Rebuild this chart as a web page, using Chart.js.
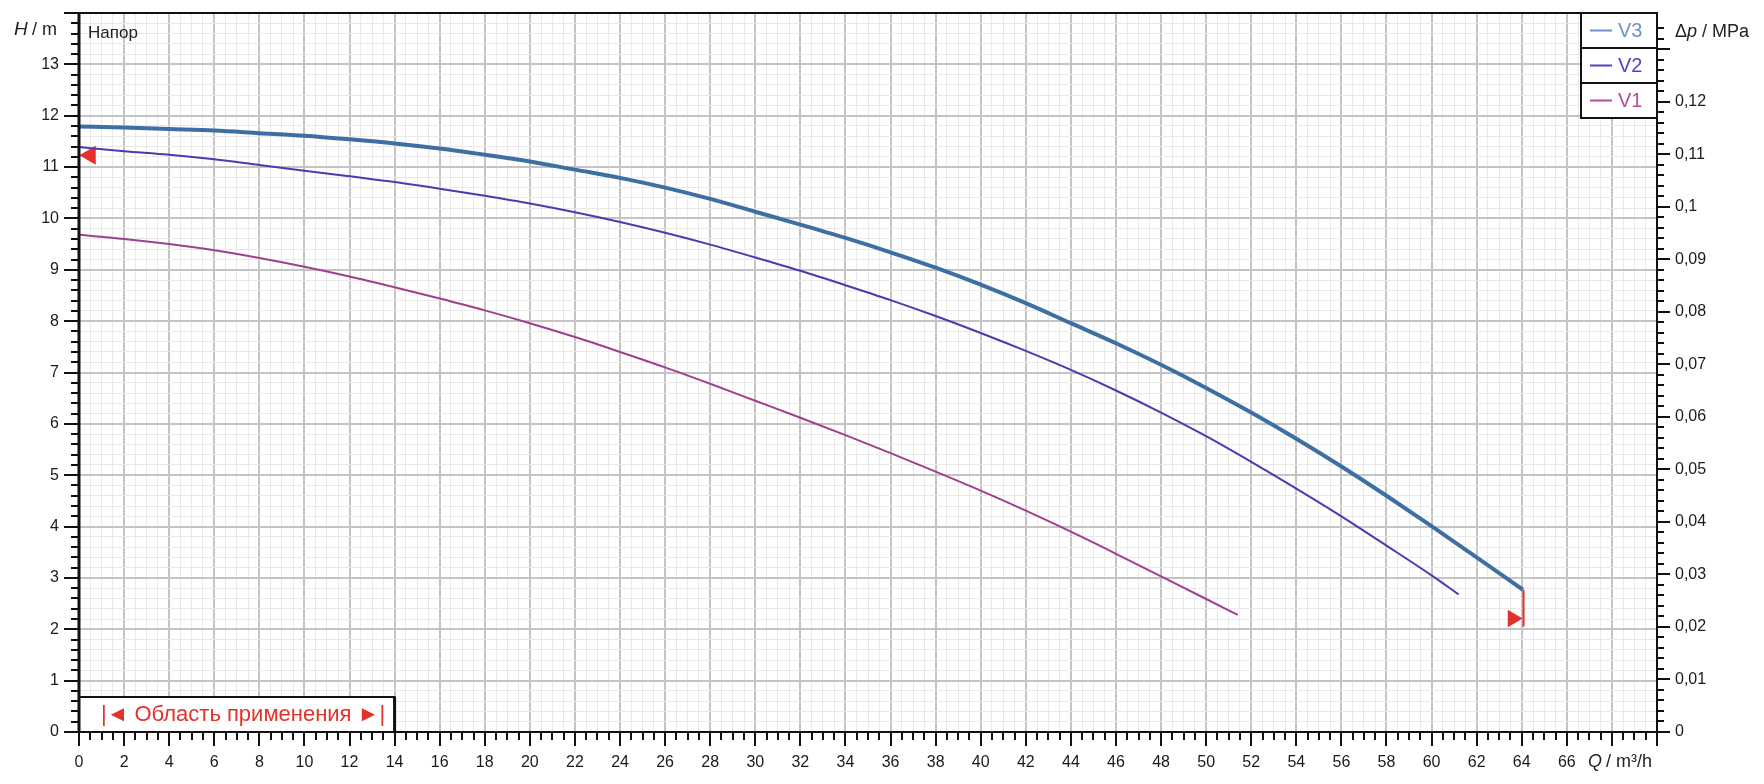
<!DOCTYPE html>
<html>
<head>
<meta charset="utf-8">
<script src="https://cdn.jsdelivr.net/npm/chart.js@4.4.1/dist/chart.umd.min.js"></script>
<style>
  body { margin: 0; background: #fff; }
  #wrap { width: 1764px; height: 784px; }
</style>
</head>
<body>
<div id="wrap"><canvas id="chart-pump" width="1764" height="784"></canvas></div>
<script>
// Кривые напора насоса (Q -> H), три скорости
const seriesNames = ["V3", "V2", "V1"];

const flowV3 = [0, 2, 4, 6, 8, 10, 12, 14, 16, 18, 20, 22, 24, 26, 28, 30, 32, 34, 36, 38, 40, 42, 44, 46, 48, 50, 52, 54, 56, 58, 60, 62, 64.05];
const headV3 = [11.79, 11.77, 11.74, 11.71, 11.66, 11.61, 11.54, 11.46, 11.36, 11.24, 11.11, 10.95, 10.79, 10.60, 10.38, 10.13, 9.88, 9.62, 9.34, 9.04, 8.71, 8.35, 7.96, 7.57, 7.15, 6.70, 6.22, 5.71, 5.17, 4.60, 4.01, 3.40, 2.77];

const flowV2 = [0, 2, 4, 6, 8, 10, 12, 14, 16, 18, 20, 22, 24, 26, 28, 30, 32, 34, 36, 38, 40, 42, 44, 46, 48, 50, 52, 54, 56, 58, 60, 61.2];
const headV2 = [11.39, 11.31, 11.24, 11.15, 11.04, 10.93, 10.82, 10.71, 10.58, 10.44, 10.29, 10.12, 9.93, 9.72, 9.49, 9.24, 8.98, 8.70, 8.41, 8.10, 7.77, 7.42, 7.05, 6.65, 6.22, 5.76, 5.26, 4.74, 4.20, 3.63, 3.05, 2.68];

const flowV1 = [0, 2, 4, 6, 8, 10, 12, 14, 16, 18, 20, 22, 24, 26, 28, 30, 32, 34, 36, 38, 40, 42, 44, 46, 48, 50, 51.4];
const headV1 = [9.68, 9.60, 9.50, 9.38, 9.23, 9.06, 8.87, 8.66, 8.44, 8.21, 7.96, 7.69, 7.40, 7.10, 6.78, 6.45, 6.12, 5.78, 5.43, 5.07, 4.70, 4.31, 3.90, 3.47, 3.03, 2.59, 2.28];

// рабочая точка / граница области
const markerStartQ = [0.5];
const markerStartH = [11.23];
const markerEndQ = [63.6];
const markerEndH = [2.21];
const limitQ = [64.08, 64.08];
const limitH = [2.77, 2.05];

// оси
const flowMax = 70;
const headMax = 14;
const mpaPerMeter = 0.00978;
const flowLabelMax = 66;
const mpaLabelMax = 0.12;

const FONT = '"Liberation Sans", Arial, sans-serif';
const RED = "#e5312b";
const seriesColors = ["#3d6fa3", "#5636b0", "#9e408e"];
const legendColors = ["#6f93c6", "#5a40c0", "#b0509c"];

const toPoints = (xs, ys) => xs.map((x, i) => ({ x: x, y: ys[i] }));
const isMult = (v, step) => Math.abs(v / step - Math.round(v / step)) < 1e-6;

const overlay = {
  id: "overlay",
  afterDatasetsDraw(chart) {
    const c = chart.ctx;
    const a = chart.chartArea;
    const sx = chart.scales.x;
    const sy = chart.scales.y;
    const sy2 = chart.scales.y2;
    c.save();

    // область применения
    const bx1 = sx.getPixelForValue(14);
    const byTop = a.bottom - 35;
    c.fillStyle = "#fff";
    c.fillRect(a.left, byTop, bx1 - a.left, a.bottom - byTop);
    c.strokeStyle = "#111";
    c.lineWidth = 2;
    c.strokeRect(a.left, byTop, bx1 - a.left, a.bottom - byTop);
    c.lineWidth = 3;
    c.beginPath();
    c.moveTo(bx1, byTop);
    c.lineTo(bx1, a.bottom);
    c.stroke();
    c.fillStyle = RED;
    c.font = "22px " + FONT;
    c.textAlign = "center";
    c.textBaseline = "middle";
    c.fillText("|◄ Область применения ►|", 243, byTop + 18);

    // легенда
    const lx = 1581;
    const rowH = 35;
    c.font = "20px " + FONT;
    c.textAlign = "left";
    chart.data.datasets.slice(0, 3).forEach((ds, i) => {
      const top = a.top + i * rowH;
      c.fillStyle = "#fff";
      c.fillRect(lx, top, a.right - lx, rowH);
      c.strokeStyle = "#111";
      c.lineWidth = 2;
      c.strokeRect(lx, top, a.right - lx, rowH);
      c.strokeStyle = legendColors[i];
      c.lineWidth = 2;
      c.beginPath();
      c.moveTo(lx + 9, top + rowH / 2);
      c.lineTo(lx + 31, top + rowH / 2);
      c.stroke();
      c.fillStyle = legendColors[i];
      c.fillText(ds.label, lx + 37, top + rowH / 2 + 1);
    });

    // рамка
    c.strokeStyle = "#111";
    c.lineWidth = 2;
    c.strokeRect(a.left, a.top, a.right - a.left, a.bottom - a.top);
    c.lineWidth = 3;
    c.beginPath();
    c.moveTo(a.left, a.top);
    c.lineTo(a.left, a.bottom);
    c.stroke();

    // засечки
    c.lineWidth = 2;
    c.strokeStyle = "#111";
    c.beginPath();
    sx.ticks.forEach((t) => {
      const px = Math.round(sx.getPixelForValue(t.value));
      const len = isMult(t.value, 2) ? 14 : 8;
      c.moveTo(px, a.bottom);
      c.lineTo(px, a.bottom + len);
    });
    sy.ticks.forEach((t) => {
      const py = Math.round(sy.getPixelForValue(t.value));
      const len = isMult(t.value, 1) ? 15 : 8;
      c.moveTo(a.left, py);
      c.lineTo(a.left - len, py);
    });
    sy2.ticks.forEach((t) => {
      if (!isMult(t.value, 0.002)) return;
      const py = Math.round(sy2.getPixelForValue(t.value));
      const len = isMult(t.value, 0.01) ? 13 : 7;
      c.moveTo(a.right, py);
      c.lineTo(a.right + len, py);
    });
    c.stroke();

    // подписи осей
    c.fillStyle = "#222";
    c.textBaseline = "middle";
    c.textAlign = "left";
    c.font = "17px " + FONT;
    c.fillText("Напор", a.left + 9, 33);

    c.font = "italic 19px " + FONT;
    c.fillText("H", 14, 30);
    c.font = "18px " + FONT;
    c.fillText(" / m", 27, 30);

    c.font = "18px " + FONT;
    c.fillText("Δ", a.right + 18, 32);
    c.font = "italic 18px " + FONT;
    c.fillText("p", a.right + 30, 32);
    c.font = "18px " + FONT;
    c.fillText(" / MPa", a.right + 40, 32);

    c.font = "italic 18px " + FONT;
    c.fillText("Q", 1588, 762);
    c.font = "18px " + FONT;
    c.fillText(" / m³/h", 1601, 762);

    c.restore();
  },
};

const datasets = [
  {
    label: seriesNames[0],
    data: toPoints(flowV3, headV3),
    borderColor: seriesColors[0],
    borderWidth: 4,
  },
  {
    label: seriesNames[1],
    data: toPoints(flowV2, headV2),
    borderColor: seriesColors[1],
    borderWidth: 2,
  },
  {
    label: seriesNames[2],
    data: toPoints(flowV1, headV1),
    borderColor: seriesColors[2],
    borderWidth: 2,
  },
  {
    label: "start",
    data: toPoints(markerStartQ, markerStartH),
    showLine: false,
    pointStyle: "triangle",
    rotation: -90,
    pointRadius: 11,
    backgroundColor: RED,
    borderWidth: 0,
  },
  {
    label: "end",
    data: toPoints(markerEndQ, markerEndH),
    showLine: false,
    pointStyle: "triangle",
    rotation: 90,
    pointRadius: 10,
    backgroundColor: RED,
    borderWidth: 0,
  },
  {
    label: "limit",
    data: toPoints(limitQ, limitH),
    borderColor: RED,
    borderWidth: 2,
  },
];

const noPadX = (s) => { s.height = 52; s.paddingLeft = 0; s.paddingRight = 0; };
const tickFont = { family: FONT, size: 16 };

const options = {
  responsive: false,
  animation: false,
  layout: { padding: { top: 13, left: 0, right: 0, bottom: 0 } },
  elements: {
    line: { cubicInterpolationMode: "monotone", fill: false },
    point: { radius: 0 },
  },
  plugins: {
    legend: { display: false },
    tooltip: { enabled: false },
  },
  scales: {
    x: {
      type: "linear",
      min: 0,
      max: flowMax,
      afterFit: noPadX,
      border: { display: false },
      grid: {
        drawTicks: false,
        color: (ctx) => (isMult(ctx.tick.value, 2) ? "#c4c4c4" : "#e9e9e9"),
        lineWidth: (ctx) => (isMult(ctx.tick.value, 2) ? 2 : 1),
      },
      ticks: {
        stepSize: 0.5,
        autoSkip: false,
        maxRotation: 0,
        padding: 21,
        color: "#1a1a1a",
        font: tickFont,
        callback: (v) => (isMult(v, 2) && v <= flowLabelMax ? String(Math.round(v)) : ""),
      },
    },
    y: {
      type: "linear",
      position: "left",
      min: 0,
      max: headMax,
      afterFit: (s) => { s.width = 79; s.paddingTop = 0; s.paddingBottom = 0; },
      border: { display: false },
      grid: {
        drawTicks: false,
        color: (ctx) => (isMult(ctx.tick.value, 1) ? "#c4c4c4" : "#e9e9e9"),
        lineWidth: (ctx) => (isMult(ctx.tick.value, 1) ? 2 : 1),
      },
      ticks: {
        stepSize: 0.2,
        autoSkip: false,
        padding: 20,
        color: "#1a1a1a",
        font: tickFont,
        callback: (v) => (isMult(v, 1) && v < headMax ? String(Math.round(v)) : ""),
      },
    },
    y2: {
      type: "linear",
      position: "right",
      min: 0,
      max: headMax * mpaPerMeter,
      afterFit: (s) => { s.width = 107; s.paddingTop = 0; s.paddingBottom = 0; },
      border: { display: false },
      grid: { display: false, drawTicks: false },
      ticks: {
        stepSize: 0.002,
        autoSkip: false,
        padding: 18,
        color: "#1a1a1a",
        font: tickFont,
        callback: (v) => (isMult(v, 0.01) && v <= mpaLabelMax + 1e-9 ? String(Math.round(v * 100) / 100).replace(".", ",") : ""),
      },
    },
  },
};

new Chart(document.getElementById("chart-pump").getContext("2d"), {
  type: "line",
  data: { datasets: datasets },
  options: options,
  plugins: [overlay],
});
</script>
</body>
</html>
